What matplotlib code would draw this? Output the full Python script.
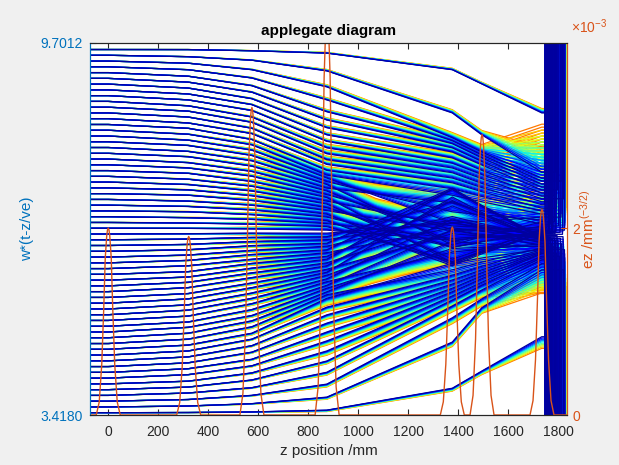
import numpy as np
import matplotlib
matplotlib.use('Agg')
import matplotlib.pyplot as plt

plt.rcParams['font.family'] = ['Liberation Sans', 'DejaVu Sans']
plt.rcParams['mathtext.fontset'] = 'custom'
plt.rcParams['mathtext.rm'] = 'Liberation Sans'
plt.rcParams['mathtext.it'] = 'Liberation Sans:italic'

blue = (0.0, 0.447, 0.741)
orange = (0.85, 0.325, 0.098)
dark = (0.15, 0.15, 0.15)

# z positions (mm) where trajectories are sampled
z_nodes = [-73, 0, 320, 575, 875, 1377, 1495, 1735]

# w*(t-z/ve) of the 64 electrons at each node
w_start = [9.591, 9.494, 9.396, 9.299, 9.201, 9.104, 9.007, 8.909, 8.812, 8.715,
           8.617, 8.520, 8.423, 8.325, 8.228, 8.130, 8.033, 7.936, 7.838, 7.741,
           7.644, 7.546, 7.449, 7.352, 7.254, 7.157, 7.059, 6.962, 6.865, 6.767,
           6.670, 6.573, 6.475, 6.378, 6.281, 6.183, 6.086, 5.988, 5.891, 5.794,
           5.696, 5.599, 5.502, 5.404, 5.307, 5.209, 5.112, 5.015, 4.917, 4.820,
           4.723, 4.625, 4.528, 4.431, 4.333, 4.236, 4.138, 4.041, 3.944, 3.846,
           3.749, 3.652, 3.554, 3.457]
w_320 = [9.59, 9.47, 9.36, 9.25, 9.14, 9.04, 8.94, 8.84, 8.74, 8.64, 8.55, 8.45, 8.35, 8.26,
         8.16, 8.06, 7.97, 7.87, 7.78, 7.68, 7.59, 7.50, 7.40, 7.31, 7.22, 7.13, 7.03, 6.94,
         6.85, 6.75, 6.66, 6.57, 6.48, 6.39, 6.30, 6.21, 6.12, 6.03, 5.94, 5.84, 5.75, 5.66,
         5.57, 5.47, 5.38, 5.28, 5.19, 5.09, 4.99, 4.90, 4.80, 4.70, 4.60, 4.50, 4.40, 4.30,
         4.20, 4.10, 3.99, 3.89, 3.79, 3.68, 3.57, 3.46]
w_575 = [9.57, 9.41, 9.25, 9.11, 8.98, 8.87, 8.76, 8.66, 8.56, 8.45, 8.36, 8.26, 8.17, 8.07,
         7.98, 7.89, 7.80, 7.71, 7.62, 7.53, 7.45, 7.36, 7.28, 7.20, 7.12, 7.04, 6.96, 6.88,
         6.80, 6.72, 6.64, 6.56, 6.49, 6.42, 6.35, 6.28, 6.20, 6.13, 6.05, 5.98, 5.90, 5.82,
         5.74, 5.65, 5.57, 5.48, 5.39, 5.30, 5.20, 5.10, 5.01, 4.91, 4.80, 4.70, 4.59, 4.48,
         4.36, 4.25, 4.13, 4.01, 3.88, 3.75, 3.61, 3.47]
w_875 = [9.53, 9.23, 8.96, 8.74, 8.54, 8.40, 8.27, 8.15, 8.04, 7.93, 7.83, 7.73, 7.65, 7.55,
         7.47, 7.42, 7.36, 7.31, 7.25, 7.20, 7.14, 7.09, 7.03, 6.98, 6.92, 6.87, 6.81, 6.76,
         6.70, 6.65, 6.60, 6.54, 6.49, 6.43, 6.38, 6.32, 6.27, 6.21, 6.16, 6.10, 6.05, 5.99,
         5.94, 5.88, 5.83, 5.78, 5.72, 5.67, 5.61, 5.56, 5.50, 5.45, 5.39, 5.24, 5.11, 4.97,
         4.82, 4.67, 4.50, 4.33, 4.14, 3.94, 3.72, 3.50]
w_1377 = [9.25, 8.52, 8.10, 8.05, 8.00, 7.93, 7.86, 7.76, 7.67, 7.59, 7.51, 7.42, 7.34, 7.24,
          7.13, 6.66, 6.85, 6.29, 7.00, 6.35, 6.55, 5.99, 6.61, 6.05, 6.25, 6.53, 5.97, 6.25,
          5.94, 6.40, 6.01, 6.37, 6.66, 7.02, 6.71, 7.25, 6.77, 7.23, 6.58, 6.95, 7.23, 6.67,
          7.04, 6.48, 7.10, 6.54, 6.73, 6.17, 6.54, 6.23, 6.35, 5.87, 5.98, 5.78, 5.70, 5.63,
          5.56, 5.50, 5.43, 5.36, 5.26, 5.06, 4.65, 3.87]
w_1495 = [9.01, 8.15, 7.86, 7.81, 7.76, 7.70, 7.64, 7.55, 7.48, 7.41, 7.33, 7.26, 7.19, 7.11,
          7.02, 6.69, 6.80, 6.43, 6.87, 6.44, 6.56, 6.19, 6.59, 6.22, 6.35, 6.53, 6.16, 6.34,
          6.14, 6.43, 6.17, 6.41, 6.59, 6.82, 6.62, 6.96, 6.65, 6.94, 6.52, 6.76, 6.94, 6.57,
          6.81, 6.44, 6.84, 6.47, 6.59, 6.22, 6.45, 6.25, 6.31, 6.00, 6.07, 5.93, 5.87, 5.82,
          5.77, 5.72, 5.66, 5.61, 5.53, 5.38, 5.23, 4.16]
w_1735 = [8.52, 7.52, 7.42, 7.37, 7.32, 7.27, 7.22, 7.17, 7.12, 7.07, 7.02, 6.97, 6.91, 6.86,
          6.81, 6.76, 6.71, 6.68, 6.64, 6.61, 6.58, 6.56, 6.54, 6.53, 6.53, 6.52, 6.51, 6.50,
          6.49, 6.48, 6.48, 6.47, 6.46, 6.45, 6.44, 6.43, 6.42, 6.42, 6.41, 6.40, 6.39, 6.38,
          6.37, 6.37, 6.36, 6.34, 6.32, 6.31, 6.29, 6.27, 6.26, 6.24, 6.22, 6.21, 6.19, 6.17,
          6.15, 6.14, 6.10, 6.07, 6.04, 5.97, 5.87, 4.74]

# lag of the weaker-coupled copies of each electron (rad): drift region and output region
spread_mid = [0.0, 0.0, 0.005, 0.03, 0.12, 0.22, 0.24, 0.10]
spread_end = [0.0, 0.0, 0.0, 0.0, 0.0, 0.02, 0.05, 0.80]
weight_mid = [0.1, 0.2, 0.3, 0.3, 0.3, 0.3, 0.3, 0.3, 0.3, 0.5, 0.5, 0.5, 0.5, 0.5,
              1.0, 1.0, 1.0, 1.0, 1.0, 1.0, 1.0, 1.0, 1.0, 1.0, 1.0, 1.0, 1.0, 1.0,
              1.0, 1.0, 1.0, 1.0, 1.0, 1.0, 1.0, 1.0, 1.0, 1.0, 1.0, 1.0, 1.0, 1.0,
              1.0, 1.0, 1.0, 1.0, 1.0, 1.0, 1.0, 1.0, 1.0, 1.0, 1.0, 0.6, 0.6, 0.6,
              0.6, 0.6, 0.6, 0.4, 0.4, 0.4, 0.3, 0.2]
weight_end = [0.08, 0.5, 1.1, 1.1, 1.1, 1.1, 1.1, 1.1, 1.1, 1.05, 1.0, 0.95, 0.85, 0.75,
              0.65, 0.55, 0.5, 0.45, 0.4, 0.35, 0.35, 0.35, 0.35, 0.35, 0.35, 0.35, 0.35,
              0.35, 0.35, 0.35, 0.35, 0.35, 0.35, 0.35, 0.35, 0.35, 0.35, 0.35, 0.35, 0.35,
              0.35, 0.35, 0.4, 0.45, 0.5, 0.55, 0.6, 0.65, 0.7, 0.7, 0.7, 0.7, 0.7, 0.7,
              0.7, 0.7, 0.7, 0.7, 0.7, 0.7, 0.65, 0.55, 0.45, 0.22]
sub_frac = [0.0, 0.11, 0.22, 0.33, 0.44, 0.56, 0.67, 0.78, 0.89, 1.0]

# z where each electron is turned back in the output gap
exit_z = [1758, 1790, 1750, 1816, 1772, 1764, 1798, 1754, 1784, 1822, 1768, 1746, 1794,
          1776, 1760, 1812, 1752, 1786, 1770, 1802, 1756, 1780, 1826, 1766, 1748, 1792,
          1774, 1808, 1762, 1788, 1778, 1818,
          1752, 1796, 1760, 1820, 1770, 1748, 1786, 1810, 1764, 1778, 1800, 1756, 1790,
          1746, 1774, 1814, 1762, 1784, 1750, 1804, 1768, 1826, 1758, 1780, 1794, 1754,
          1806, 1772, 1788, 1766, 1822, 1760]

# cavity field profiles
cav_z = [0, 322, 575, 876, 1377, 1496, 1736]
cav_peak = [2.0e-3, 1.91e-3, 3.29e-3, 4.3e-3, 2.01e-3, 3.0e-3, 2.2e-3]
prof_dz = [-48, -36, -26, -18, -12, -6, -3, 0, 3, 6, 12, 18, 26, 36, 48]
prof_h = [0, 0.07, 0.27, 0.57, 0.84, 0.96, 0.99, 1.0, 0.99, 0.96, 0.84, 0.57, 0.27, 0.07, 0]

fig = plt.figure(figsize=(6.19, 4.65), dpi=100, facecolor=(0.94, 0.94, 0.94))
ax1 = fig.add_axes([90/619, 50/465, 477/619, 372/465])
ax2 = ax1.twinx()

W = np.array([w_start, w_start, w_320, w_575, w_875, w_1377, w_1495, w_1735]).T
S_mid = np.array(spread_mid)
S_end = np.array(spread_end)
cmap = plt.get_cmap('jet')
for j in reversed(range(len(sub_frac))):
    f = sub_frac[j]
    col = cmap(0.03 + 0.75 * f)
    for k in range(W.shape[0]):
        sgn = 1.0 if k < 32 else -1.0
        w = W[k] + sgn * f * (S_mid * weight_mid[k] + S_end * weight_end[k])
        zv = exit_z[k] + 0.7 * j
        w_end = 14.0 if sgn > 0 else -1.0
        zz = z_nodes + [zv, zv + 3]
        ww = list(w) + [w[-1], w_end]
        ax1.plot(zz, ww, color=col, lw=0.9)

ez_z = [-73]
ez_v = [0.0]
for c, p in zip(cav_z, cav_peak):
    ez_z += [c + d for d in prof_dz]
    ez_v += [p * h for h in prof_h]
ez_z.append(1836)
ez_v.append(0.0)
ax2.plot(ez_z, ez_v, color=orange, lw=1.0)

ax1.set_xlim(-73, 1836)
ax1.set_ylim(3.4180, 9.7012)
ax2.set_ylim(0, 3.98e-3)

ax1.set_xticks([0, 200, 400, 600, 800, 1000, 1200, 1400, 1600, 1800])
ax1.set_yticks([3.4180, 9.7012])
ax1.set_yticklabels(['3.4180', '9.7012'])
ax2.set_yticks([0, 2e-3])
ax2.set_yticklabels(['0', '2'])

ax1.tick_params(axis='x', direction='in', top=True, length=4, color=dark,
                labelcolor=dark, labelsize=10, pad=7)
ax1.tick_params(axis='y', direction='in', length=4, colors=blue, labelsize=10, pad=5)
ax2.tick_params(axis='y', direction='in', length=4, colors=orange, labelsize=10, pad=4)

for ax in (ax1, ax2):
    ax.spines['top'].set_color(dark)
    ax.spines['bottom'].set_color(dark)
    ax.spines['left'].set_color(blue)
    ax.spines['right'].set_color(orange)

ax1.set_title('applegate diagram', fontsize=11, fontweight='bold', color='black', pad=6)
ax1.set_xlabel('z position /mm', fontsize=11, color=dark)
ax1.set_ylabel('w*(t-z/ve)', fontsize=11, color=blue)
ax1.yaxis.set_label_coords(-0.118, 0.5)
ax2.set_ylabel(r'ez /mm$^{(-3/2)}$', fontsize=11, color=orange)
ax2.yaxis.set_label_coords(1.025, 0.5)
ax2.text(1.008, 1.027, r'$\times10^{-3}$', transform=ax2.transAxes, color=orange,
         fontsize=10, ha='left', va='baseline')

fig.savefig('out.png', dpi=100, facecolor=fig.get_facecolor())
